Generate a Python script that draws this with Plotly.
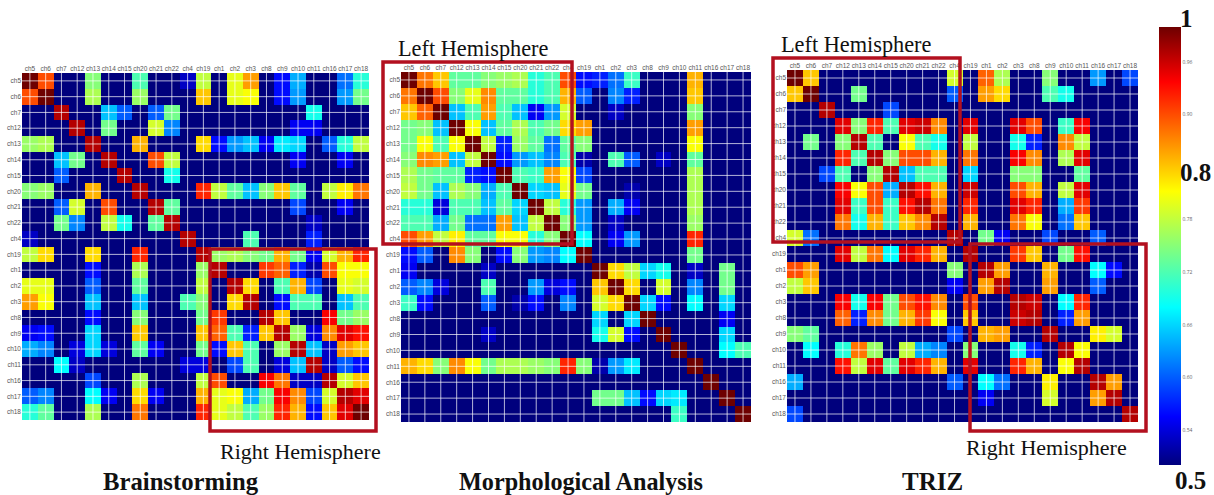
import plotly.graph_objects as go

WIDTH, HEIGHT = 1214, 495

channels = ["ch5","ch6","ch7","ch12","ch13","ch14","ch15","ch20","ch21","ch22","ch4",
            "ch19","ch1","ch2","ch3","ch8","ch9","ch10","ch11","ch16","ch17","ch18"]

# correlation values, in hundredths
brainstorming = [
 [100,90,50,50,75,50,50,72,50,50,53,78,50,80,86,50,56,64,50,50,61,70],
 [90,100,50,50,77,50,50,76,50,50,50,84,50,80,81,50,56,63,50,50,63,74],
 [50,50,97,50,50,65,60,50,60,74,50,50,50,50,50,50,50,50,69,50,50,50],
 [50,50,50,97,50,74,50,50,79,62,50,50,50,50,50,50,50,55,55,50,50,50],
 [76,77,50,50,97,50,50,85,50,50,50,83,56,63,65,55,67,66,50,60,70,78],
 [50,50,65,74,50,97,50,50,90,78,50,50,50,50,50,50,50,55,50,50,55,50],
 [50,50,60,50,50,50,97,50,50,69,50,50,50,50,50,50,50,50,50,50,50,50],
 [75,76,50,50,85,50,50,97,50,50,50,92,78,73,65,75,84,73,50,78,82,88],
 [50,50,60,79,50,90,50,50,97,73,50,50,50,50,50,50,50,59,50,50,55,50],
 [50,50,74,62,50,78,69,50,73,97,50,50,50,50,50,50,50,50,53,50,50,50],
 [53,50,50,50,50,50,50,50,50,50,97,50,50,50,72,50,50,50,57,50,50,50],
 [78,83,50,50,83,50,50,92,50,50,50,97,76,77,75,74,85,74,55,79,85,92],
 [50,50,50,50,56,50,50,77,50,50,50,76,97,50,50,91,89,57,52,90,81,81],
 [80,80,50,50,60,50,50,73,50,50,50,78,50,97,83,50,72,85,59,50,80,79],
 [86,81,50,50,65,50,50,65,50,50,72,75,50,83,97,50,56,72,72,50,65,72],
 [50,50,50,50,56,50,50,75,50,50,50,74,91,50,50,97,84,50,50,94,74,76],
 [55,56,50,50,66,50,50,84,50,50,50,84,89,72,57,84,97,76,54,87,95,93],
 [64,62,50,54,66,54,50,73,55,50,50,74,56,84,72,50,76,97,65,53,86,84],
 [50,50,68,53,50,50,50,50,50,50,54,54,50,59,72,50,54,65,97,53,60,56],
 [50,50,50,50,59,50,50,77,50,50,50,78,90,50,50,94,88,53,53,97,79,84],
 [60,62,50,50,68,55,50,83,55,50,50,85,80,81,64,74,94,87,59,79,97,95],
 [70,73,50,50,77,50,50,88,50,50,50,92,80,78,72,76,92,85,56,84,95,100],
]

morphological = [
 [100,88,84,73,73,75,76,77,70,72,90,56,57,61,71,50,50,50,85,50,50,50],
 [88,100,90,75,80,87,73,73,70,72,85,60,50,62,57,50,50,50,84,50,50,50],
 [84,89,100,65,72,86,72,65,55,63,79,50,50,53,50,50,50,50,75,50,50,50],
 [74,75,65,100,81,65,73,77,72,74,83,86,50,50,50,50,50,50,86,50,50,50],
 [74,81,72,81,100,78,57,76,73,61,73,75,50,50,50,50,50,50,81,50,50,50],
 [75,87,86,65,78,100,56,63,65,62,72,52,50,72,60,50,53,50,73,50,50,50],
 [77,74,73,73,57,56,100,72,71,86,81,59,50,50,50,50,50,50,77,50,50,50],
 [78,74,65,77,75,64,72,100,66,65,80,74,50,50,52,50,50,50,77,50,50,50],
 [70,70,54,72,72,65,73,66,100,78,70,63,50,64,55,50,50,50,77,50,50,50],
 [72,72,64,74,61,61,86,65,78,100,75,63,50,53,50,50,50,50,76,50,50,50],
 [90,86,78,82,73,73,81,81,70,75,100,68,50,55,63,50,50,50,92,50,50,50],
 [56,60,50,87,75,50,56,75,63,62,68,100,50,50,50,50,50,50,74,50,50,50],
 [55,50,50,50,50,53,50,50,50,50,50,50,100,83,78,66,69,50,53,50,74,50],
 [60,62,54,50,50,72,50,50,63,54,56,50,84,100,83,50,79,50,62,50,74,50],
 [71,56,50,50,50,60,50,52,56,50,62,50,79,83,100,66,56,50,68,50,66,50],
 [50,50,50,50,50,50,50,50,50,50,50,50,66,50,66,100,50,50,50,50,55,50],
 [50,50,50,50,50,53,50,50,50,50,50,50,69,79,56,50,100,50,50,50,66,50],
 [50,50,50,50,50,50,50,50,50,50,50,50,50,50,50,50,50,100,50,50,68,72],
 [85,83,75,87,81,74,77,77,76,75,92,75,52,63,67,50,50,50,100,50,50,50],
 [50,50,50,50,50,50,50,50,50,50,50,50,50,50,50,50,50,50,50,100,50,50],
 [50,50,50,50,50,50,50,50,50,50,50,50,74,74,65,56,66,67,50,50,100,50],
 [50,50,50,50,50,50,50,50,50,50,50,50,50,50,50,50,50,71,50,50,50,100],
]

triz = [
 [100,84,50,50,50,50,50,50,50,50,79,50,89,77,50,50,75,50,50,63,50,59],
 [84,100,50,50,74,50,50,50,50,50,60,50,86,83,50,50,72,69,50,50,50,50],
 [50,50,97,50,50,50,59,50,50,50,50,50,50,50,50,50,50,50,50,50,50,50],
 [50,50,50,95,75,92,72,95,96,87,50,95,50,50,95,90,50,71,94,50,50,50],
 [50,74,50,75,97,72,50,81,72,69,50,78,50,50,69,57,50,87,78,50,50,50],
 [50,50,50,92,72,97,75,90,90,85,50,88,50,50,94,87,50,77,95,50,50,50],
 [50,50,59,72,50,75,97,65,72,72,50,66,50,50,75,75,50,50,73,50,50,50],
 [50,50,50,94,81,90,64,97,93,85,50,96,50,50,90,85,50,78,95,50,50,50],
 [50,50,50,95,71,90,71,93,97,88,50,92,50,50,95,92,50,64,91,50,50,50],
 [50,50,50,88,69,85,71,84,87,97,50,85,50,50,88,81,50,61,84,50,50,50],
 [79,61,50,50,50,50,50,50,50,50,97,50,74,55,50,50,59,50,50,60,50,50],
 [50,50,50,95,78,88,68,95,92,85,50,97,50,50,91,84,50,74,93,50,50,50],
 [90,86,50,50,50,50,50,50,50,50,75,50,97,86,50,50,85,50,50,68,56,50],
 [78,84,50,50,50,50,50,50,50,50,55,50,86,97,50,50,86,50,50,60,50,50],
 [50,50,50,94,69,94,74,90,93,87,50,90,50,50,97,96,50,68,92,50,50,50],
 [50,50,50,89,57,87,74,85,91,81,50,84,50,50,96,97,50,57,86,50,50,50],
 [75,73,50,50,50,50,50,50,50,50,59,50,85,86,50,50,97,50,50,82,79,50],
 [50,68,50,70,88,76,50,78,64,62,50,75,50,50,69,57,50,97,81,50,50,50],
 [50,50,50,93,78,95,73,95,92,85,50,95,50,50,92,85,50,81,97,50,50,50],
 [64,50,50,50,50,50,50,50,50,50,60,50,68,61,50,50,82,50,50,97,86,50],
 [50,50,50,50,50,50,50,50,50,50,50,50,55,50,50,50,79,50,50,86,97,50],
 [59,50,50,50,50,50,50,50,50,50,50,50,50,50,50,50,50,50,50,50,50,97],
]

colorbar_ticks = [0.54, 0.60, 0.66, 0.72, 0.78, 0.90, 0.96]

panel_titles = ["Brainstorming", "Morphological Analysis", "TRIZ"]

JET = [[0.0, "rgb(0,0,125)"], [0.11, "rgb(0,0,255)"], [0.36, "rgb(0,255,255)"],
       [0.625, "rgb(255,255,0)"], [0.875, "rgb(255,0,0)"], [1.0, "rgb(110,0,0)"]]
RED = "#b3101f"
SERIF = "Liberation Serif"


def fx(px):
    return px / WIDTH


def fy(px):
    return 1 - px / HEIGHT


panels = [
    (brainstorming, (22, 369), (73, 420), ("x", "y")),
    (morphological, (401, 751), (72, 422), ("x2", "y2")),
    (triz, (787, 1138), (70, 422), ("x3", "y3")),
]

fig = go.Figure()
n = len(channels)
idx = list(range(n))
layout_axes = {}

for matrix, (x0, x1), (y0, y1), (xa, ya) in panels:
    fig.add_trace(go.Heatmap(
        z=[[v / 100 for v in row] for row in matrix],
        x=idx, y=idx, xaxis=xa, yaxis=ya, coloraxis="coloraxis",
        xgap=0, ygap=0,
        hovertemplate="%{x} %{y}: %{z}<extra></extra>",
    ))
    gx, gy = [], []
    for i in idx:
        gx += [i, i, None, -0.5, n - 0.5, None]
        gy += [-0.5, n - 0.5, None, i, i, None]
    fig.add_trace(go.Scatter(
        x=gx, y=gy, xaxis=xa, yaxis=ya, mode="lines", showlegend=False,
        line=dict(color="rgba(255,255,255,0.7)", width=1), hoverinfo="skip",
    ))
    xname = "xaxis" + xa[1:]
    yname = "yaxis" + ya[1:]
    layout_axes[xname] = dict(
        domain=[fx(x0), fx(x1)], anchor=ya, side="top", range=[-0.5, n - 0.5],
        tickvals=idx, ticktext=channels, showgrid=False, zeroline=False,
        ticks="", ticklen=0, tickangle=0, tickfont=dict(size=6.5, color="#555555", family="Liberation Sans"),
    )
    layout_axes[yname] = dict(
        domain=[fy(y1), fy(y0)], anchor=xa, range=[n - 0.5, -0.5],
        tickvals=idx, ticktext=channels, showgrid=False, zeroline=False,
        ticks="", ticklen=0, tickfont=dict(size=6.5, color="#555555", family="Liberation Sans"),
    )

boxes = [(210, 249, 376, 431), (383, 62, 572, 244), (773, 58, 960, 242), (970, 244, 1146, 431)]
shapes = [dict(type="rect", xref="paper", yref="paper", x0=fx(a), x1=fx(c), y0=fy(d), y1=fy(b),
               line=dict(color=RED, width=3.5), fillcolor="rgba(0,0,0,0)", layer="above")
          for a, b, c, d in boxes]


def label(text, cx, cy, size, bold=False):
    return dict(text=f"<b>{text}</b>" if bold else text, x=fx(cx), y=fy(cy), xref="paper", yref="paper",
                xanchor="center", yanchor="middle", showarrow=False,
                font=dict(family=SERIF, size=size, color="#111111"))


annotations = [
    label("Left Hemisphere", 473, 49, 22.3),
    label("Left Hemisphere", 856, 44, 22.3),
    label("Right Hemisphere", 300, 451, 22),
    label("Right Hemisphere", 1046, 447, 22),
    label(panel_titles[0], 181, 481, 24.7, True),
    label(panel_titles[1], 581, 481, 24.2, True),
    label(panel_titles[2], 932, 481, 25, True),
    label("1", 1186, 18, 25, True),
    label("0.8", 1195, 172, 25, True),
    label("0.5", 1190, 480, 25, True),
]

fig.update_layout(
    width=WIDTH, height=HEIGHT, margin=dict(l=0, r=0, t=0, b=0),
    paper_bgcolor="white", plot_bgcolor="white", showlegend=False,
    shapes=shapes, annotations=annotations,
    coloraxis=dict(
        colorscale=JET, cmin=0.5, cmax=1.0,
        colorbar=dict(
            x=fx(1159), xanchor="left", y=fy(246), yanchor="middle",
            thickness=22, thicknessmode="pixels", len=438 / HEIGHT, lenmode="fraction",
            xpad=0, ypad=0, outlinewidth=0, ticks="",
            tickvals=colorbar_ticks, ticktext=[f"{v:.2f}" for v in colorbar_ticks],
            tickfont=dict(size=5, color="#666666"),
        ),
    ),
    **layout_axes,
)

fig.write_html("out.html", config={"displayModeBar": False},
               post_script="document.body.style.margin='0';")
